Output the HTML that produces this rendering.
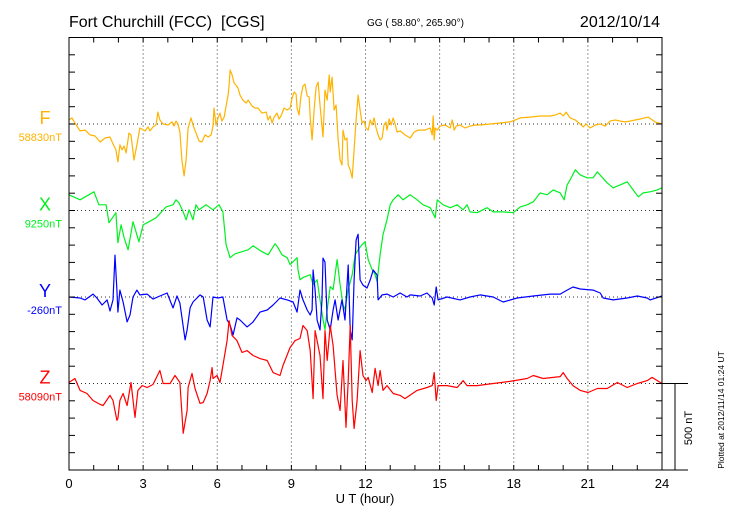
<!DOCTYPE html>
<html><head><meta charset="utf-8"><style>
body{margin:0;background:#fff;}
svg{display:block;font-family:"Liberation Sans",sans-serif;}
</style></head><body>
<svg id="chart" width="730" height="520" viewBox="0 0 730 520" xmlns="http://www.w3.org/2000/svg">
<text x="69" y="27" font-size="16">Fort Churchill (FCC)&#160; [CGS]</text>
<text x="367" y="26" font-size="10">GG ( 58.80°, 265.90°)</text>
<text x="660" y="27" font-size="16" text-anchor="end">2012/10/14</text>
<g id="grid"></g>
<g id="series"></g>
<g id="axes"></g>
<text x="365" y="503" font-size="13" text-anchor="middle">U T (hour)</text>
<text transform="translate(692,428) rotate(-90)" font-size="11" text-anchor="middle">500 nT</text>
<text transform="translate(724,410) rotate(-90)" font-size="8.5" text-anchor="middle">Plotted at 2012/11/14 01:24 UT</text>
</svg>
<script>
const xTicks=[0,3,6,9,12,15,18,21,24];
const comps=["F","X","Y","Z"];
const compBaseLabels=["58830nT","9250nT","-260nT","58090nT"];
const fT=[0,.12,.24,.45,.65,.85,1.05,1.26,1.46,1.66,1.78,1.90,1.98,2.06,2.15,2.23,2.31,2.43,2.51,2.63,2.75,2.87,3.08,3.20,3.28,3.40,3.52,3.60,3.68,3.81,4.01,4.17,4.25,4.33,4.41,4.49,4.57,4.66,4.74,4.82,4.94,5.02,5.14,5.26,5.38,5.51,5.63,5.75,5.83,5.87,5.95,6.03,6.11,6.19,6.28,6.36,6.44,6.48,6.52,6.60,6.68,6.76,6.84,6.92,7.04,7.17,7.25,7.41,7.53,7.65,7.81,7.98,8.06,8.14,8.22,8.30,8.42,8.50,8.58,8.70,8.83,8.95,9.03,9.11,9.19,9.23,9.31,9.39,9.47,9.55,9.64,9.72,9.76,9.84,9.92,10.0,10.08,10.16,10.28,10.36,10.45,10.53,10.57,10.65,10.73,10.81,10.89,10.97,11.05,11.09,11.17,11.25,11.30,11.38,11.46,11.54,11.62,11.70,11.78,11.86,11.94,12.02,12.11,12.19,12.27,12.35,12.43,12.51,12.59,12.67,12.75,12.83,12.87,12.96,13.04,13.12,13.20,13.28,13.40,13.60,13.81,13.97,14.13,14.41,14.62,14.70,14.74,14.78,14.82,14.90,15.02,15.22,15.43,15.51,15.59,15.67,15.83,16.03,16.23,16.44,16.64,17.04,17.45,17.85,18.06,18.26,18.66,19.07,19.47,19.68,19.88,20.0,20.12,20.28,20.49,20.69,20.81,20.93,21.09,21.30,21.50,21.70,21.90,22.11,22.31,22.51,22.71,22.91,23.12,23.44,23.72,24];
const fV=[23,35,6,-40,-35,-63,-69,-104,-81,-75,-115,-150,-219,-121,-150,-127,-167,-52,-63,-208,-121,-23,-40,-17,-40,-17,-6,69,23,0,-6,12,-12,17,0,-46,-208,-300,-208,-23,35,-6,-52,-98,-104,-63,-75,-63,-12,92,-6,35,63,17,40,104,167,225,312,283,237,225,208,167,138,121,138,104,92,92,63,69,23,46,6,40,63,29,46,92,81,92,150,185,173,92,52,162,219,231,162,156,40,-92,81,213,242,110,-75,196,138,283,185,271,81,110,-87,-208,-237,-35,-92,-81,-237,-265,-312,-150,23,167,81,6,17,-23,-35,23,-6,35,-23,-63,-92,-81,-6,12,-35,29,-6,35,0,-46,-40,-63,-81,-46,-35,-35,-23,-63,46,-92,-23,-35,-12,-6,-23,23,-35,-12,-6,-23,-12,-6,-6,0,6,12,23,35,40,46,46,52,63,46,69,35,23,0,-17,0,-23,-6,0,-12,17,23,17,12,17,23,29,40,12,0];
const xT=[0,.45,1.01,1.21,1.50,1.62,1.90,1.98,2.11,2.23,2.39,2.59,2.71,2.83,3.00,3.24,3.52,3.93,4.21,4.33,4.45,4.62,4.74,4.86,5.02,5.14,5.26,5.55,5.83,6.07,6.23,6.36,6.52,6.72,7.00,7.25,7.45,7.81,8.06,8.34,8.46,8.62,8.83,8.95,9.07,9.23,9.27,9.35,9.47,9.76,9.88,10.04,10.16,10.28,10.36,10.45,10.57,10.69,10.85,10.97,11.09,11.17,11.30,11.46,11.58,11.70,11.86,11.98,12.11,12.27,12.39,12.47,12.59,12.71,12.87,13.00,13.12,13.32,13.52,13.81,14.09,14.33,14.62,14.82,14.90,15.14,15.43,15.71,15.95,16.11,16.23,16.52,16.92,17.17,17.57,17.98,18.26,18.54,18.79,19.07,19.35,19.60,19.88,20.04,20.16,20.28,20.49,20.69,20.97,21.21,21.38,21.78,22.02,22.31,22.59,22.83,23.04,23.24,23.52,23.81,24];
const xV=[91,62,108,33,33,-71,-13,-186,-83,-158,-227,-65,-123,-181,-83,-65,-42,21,33,62,44,-8,-54,4,-54,33,4,33,4,33,-8,-198,-273,-250,-238,-227,-204,-238,-256,-192,-215,-256,-273,-313,-296,-273,-342,-400,-388,-371,-429,-400,-515,-630,-688,-573,-440,-457,-284,-429,-544,-573,-457,-371,-256,-227,-198,-181,-284,-342,-371,-411,-256,-140,-54,33,62,91,62,91,62,33,16,-42,62,33,16,33,4,33,-8,-13,16,-8,-8,-13,21,33,50,102,91,119,102,62,148,177,235,206,189,189,223,160,131,148,166,119,79,102,108,119,131];
const yT=[0,.45,.65,.97,1.13,1.34,1.54,1.66,1.78,1.86,1.94,1.98,2.06,2.19,2.35,2.47,2.59,2.75,2.87,3.16,3.40,3.68,3.97,4.21,4.37,4.49,4.70,4.78,4.90,5.02,5.30,5.43,5.59,5.71,5.83,6.03,6.23,6.40,6.52,6.64,6.80,6.92,7.21,7.45,7.73,8.02,8.26,8.54,8.83,9.07,9.23,9.35,9.47,9.64,9.76,9.84,9.88,9.96,10.04,10.16,10.24,10.28,10.36,10.45,10.57,10.69,10.77,10.89,11.05,11.17,11.30,11.38,11.46,11.54,11.62,11.70,11.78,11.90,12.06,12.19,12.31,12.47,12.51,12.67,12.87,13.12,13.40,13.68,13.81,14.21,14.49,14.70,14.78,14.86,14.94,15.30,15.83,16.23,16.64,17.17,17.57,18.14,18.79,19.47,19.88,20.16,20.40,20.69,21.21,21.50,21.62,22.02,22.59,23.00,23.40,23.52,24];
const yV=[0,-6,-17,17,-6,-46,-17,-81,-17,242,40,-87,40,-29,-144,-104,0,40,12,17,-12,6,23,-63,6,-35,-248,-190,-63,-29,12,0,-133,-173,0,-6,0,-133,-162,-219,-121,-133,-173,-144,-87,-75,-46,-6,-17,-29,-87,40,-17,-75,-104,-75,156,40,-133,-190,-17,225,202,-133,-190,-75,-17,-133,-17,-133,185,-190,-248,98,329,363,98,69,52,98,156,127,-17,12,17,0,23,0,12,6,23,-6,-46,58,-17,0,-17,0,12,0,-29,-6,6,17,17,40,58,46,40,23,-6,-17,-6,6,-6,-17,6];
const zT=[0,.24,.45,.73,.97,1.26,1.38,1.66,1.78,1.94,1.98,2.06,2.19,2.35,2.51,2.67,2.79,2.96,3.16,3.40,3.68,3.81,4.09,4.29,4.49,4.62,4.78,4.82,4.98,5.10,5.30,5.43,5.59,5.71,5.79,5.83,5.99,6.11,6.23,6.40,6.48,6.60,6.80,7.00,7.21,7.45,7.73,8.02,8.26,8.54,8.66,8.95,9.15,9.35,9.47,9.64,9.76,9.88,9.96,10.04,10.16,10.28,10.36,10.45,10.57,10.69,10.85,10.97,11.09,11.21,11.30,11.38,11.46,11.54,11.66,11.78,11.90,12.02,12.11,12.27,12.39,12.51,12.59,12.71,12.87,13.12,13.40,13.60,14.09,14.49,14.70,14.78,14.86,14.94,15.30,15.71,15.95,16.11,16.52,17.17,17.85,18.54,18.79,19.19,19.60,19.88,20.00,20.16,20.40,20.69,21.01,21.38,21.78,22.19,22.59,23.00,23.40,23.60,23.81,24];
const zV=[6,29,-40,-58,-98,-121,-127,-69,-98,-213,-202,-98,-58,-127,6,-196,-40,-12,-23,-6,75,0,0,46,6,-288,-156,-23,58,-29,-115,-110,-58,17,92,29,46,6,104,248,363,277,248,179,190,162,144,133,63,46,104,208,248,260,335,306,190,-87,306,248,162,-87,306,133,335,219,-69,-156,133,-254,17,335,-98,-260,-98,190,46,17,35,-52,87,-12,75,-40,-12,-58,-69,-87,-40,-23,-12,63,-98,-12,-12,-23,17,-12,-12,0,12,29,46,29,35,40,63,29,-12,-40,-52,-29,-29,6,-23,0,17,35,17,0];

const NS='http://www.w3.org/2000/svg';
const L=69,R=662,T=37.5,B=470;
const pxPer100=(B-T)/25;
const bases=[T+5*pxPer100,T+10*pxPer100,T+15*pxPer100,T+20*pxPer100];
const colors=["#ffb300","#00f020","#0000ff","#ff0000"];
const xs=t=>L+t*(R-L)/24;
const ys=(v,b)=>b-v*pxPer100/100;
function mk(tag,at,parent){const e=document.createElementNS(NS,tag);for(const k in at)e.setAttribute(k,at[k]);parent.appendChild(e);return e;}
const grid=document.getElementById('grid'),axes=document.getElementById('axes'),ser=document.getElementById('series');
xTicks.forEach(h=>{if(h>0&&h<24){const g=mk('line',{x1:xs(h),x2:xs(h),y1:T,y2:B,stroke:'#333','stroke-width':1,'stroke-dasharray':'1,3'},grid);

}});
bases.forEach(b=>{const g=mk('line',{x1:L,x2:R,y1:b,y2:b,stroke:'#333','stroke-width':1,'stroke-dasharray':'1,3'},grid);

});
const data=[[fT,fV],[xT,xV],[yT,yV],[zT,zV]];
data.forEach((d,i)=>{let p='';d[0].forEach((t,j)=>{p+=(j?'L':'M')+xs(t).toFixed(1)+','+ys(d[1][j],bases[i]).toFixed(1);});
const pe=mk('path',{d:p,fill:'none',stroke:colors[i],'stroke-width':1.2,'stroke-linejoin':'round'},ser);


const lt=mk('text',{x:45,y:bases[i],'font-size':18,'text-anchor':'middle',fill:colors[i]},ser);lt.textContent=comps[i];


const bt=mk('text',{x:62,y:bases[i]+17,'font-size':11,'text-anchor':'end',fill:colors[i]},ser);bt.textContent=compBaseLabels[i];

});
const fr=mk('rect',{x:L,y:T,width:R-L,height:B-T,fill:'none',stroke:'#000','stroke-width':1},axes);


for(let k=1;k<25;k++){const y=T+k*pxPer100;mk('line',{x1:L,x2:L+6,y1:y,y2:y,stroke:'#000'},axes);mk('line',{x1:R-6,x2:R,y1:y,y2:y,stroke:'#000'},axes);}
for(let h=1;h<24;h++){mk('line',{x1:xs(h),x2:xs(h),y1:T,y2:T+5,stroke:'#000'},axes);mk('line',{x1:xs(h),x2:xs(h),y1:B-5,y2:B,stroke:'#000'},axes);}
xTicks.forEach(h=>{const t=mk('text',{x:xs(h),y:488,'font-size':13,'text-anchor':'middle'},axes);t.textContent=h;

});
mk('line',{x1:R,x2:688,y1:B,y2:B,stroke:'#000'},axes);
const sb=mk('path',{d:`M${R},${bases[3]}H688M675,${bases[3]}V${B}`,fill:'none',stroke:'#000','stroke-width':1},axes);


</script>
</body></html>
